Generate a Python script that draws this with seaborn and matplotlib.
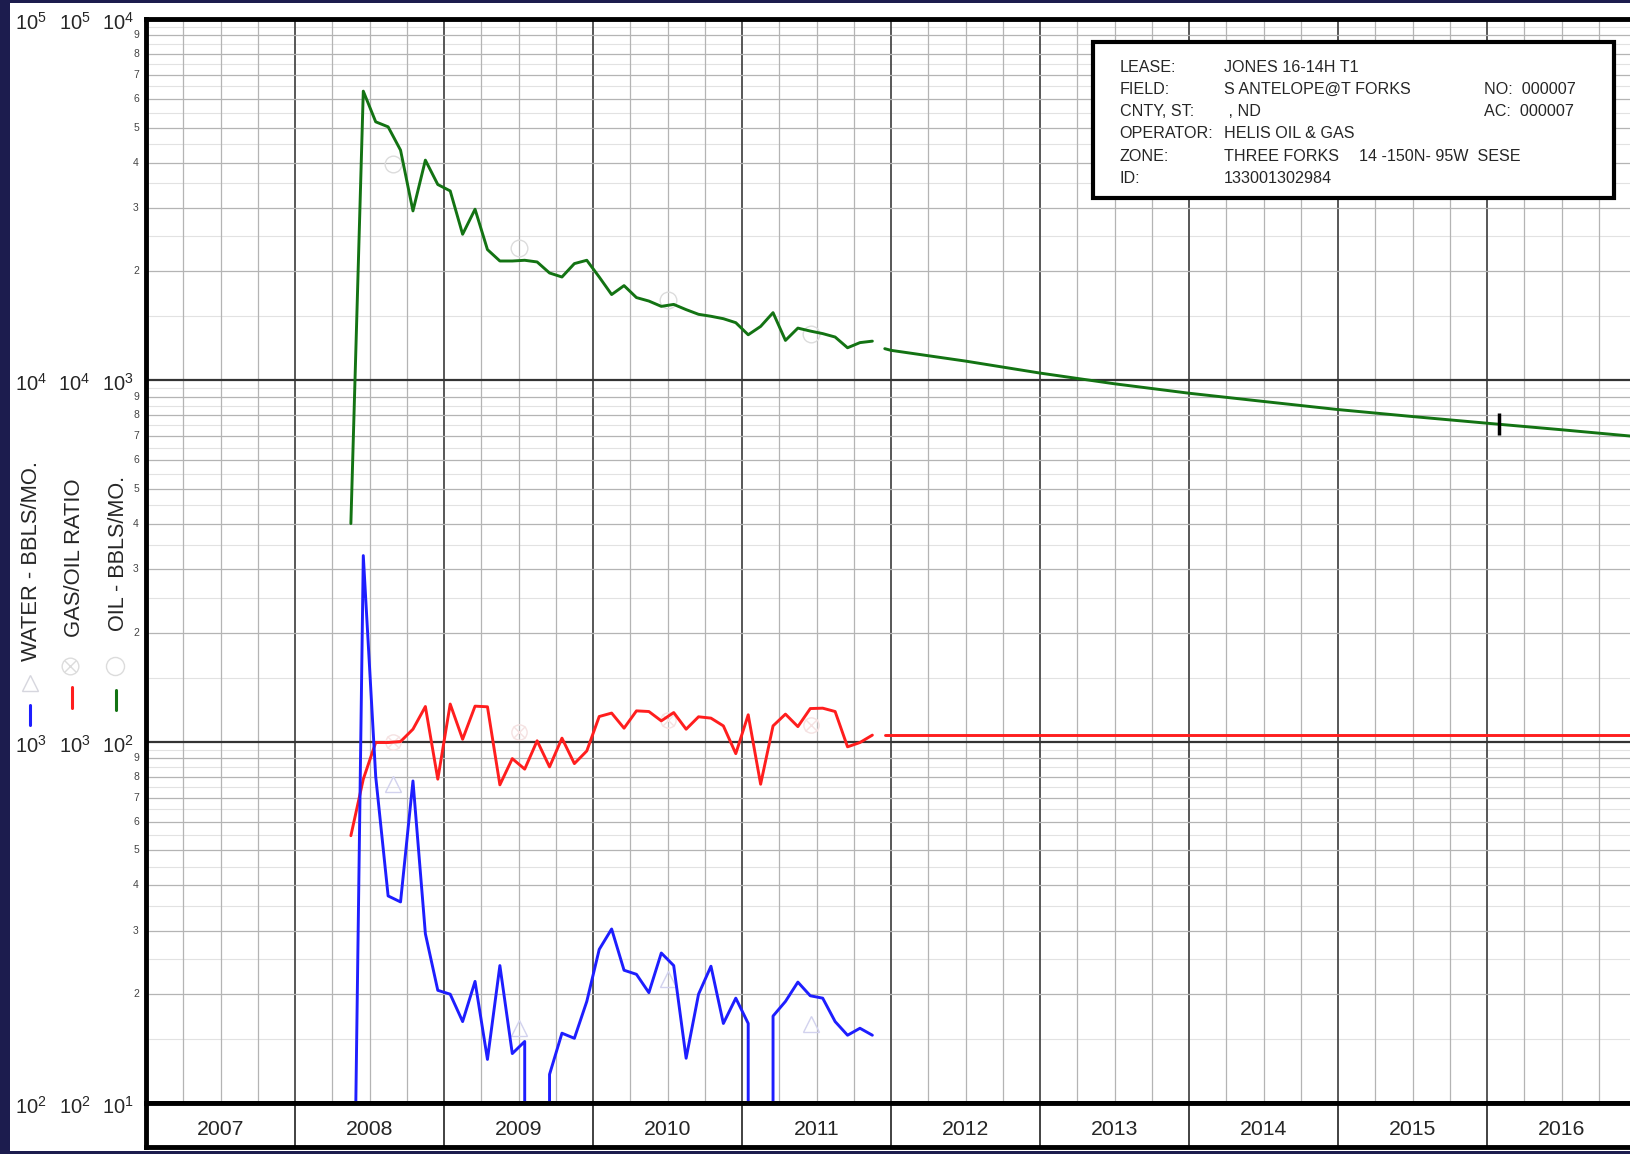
import numpy as np
import pandas as pd
import matplotlib
matplotlib.use("Agg")
import matplotlib.pyplot as plt
import seaborn as sns
from matplotlib.patches import Rectangle
from matplotlib.lines import Line2D
from matplotlib.ticker import LogLocator, NullFormatter, FixedLocator
from matplotlib.transforms import blended_transform_factory, offset_copy

# ---------------- data ----------------
months = pd.period_range("2008-05", "2011-11", freq="M")
oil = [401, 6303, 5184, 5021, 4328, 2939, 4061, 3477,
       3338, 2533, 2971, 2297, 2136, 2136, 2146, 2123, 1979, 1929, 2101, 2146,
       1929, 1725, 1826, 1692, 1655, 1600, 1620, 1567, 1521, 1502, 1479, 1442,
       1335, 1408, 1537, 1288, 1393, 1367, 1345, 1316, 1229, 1270, 1282]
gor = [549, 787, 994, 994, 1000, 1082, 1250, 787,
       1270, 1015, 1253, 1248, 759, 897, 839, 1005, 851, 1022, 869, 942,
       1173, 1199, 1089, 1216, 1211, 1141, 1203, 1082, 1171, 1161, 1105, 926,
       1186, 762, 1105, 1191, 1100, 1234, 1237, 1211, 967, 994, 1042]
water = [10, 3270, 800, 374, 360, 778, 294, 205,
         200, 168, 217, 132, 240, 137, 148, 0, 120, 156, 151, 191,
         266, 303, 233, 227, 202, 260, 240, 133, 200, 239, 166, 195,
         166, 0, 174, 191, 216, 198, 195, 168, 154, 161, 154]

fc_years = [2011.958, 2012.0, 2012.5, 2013.0, 2013.5, 2014.0, 2014.5,
            2015.0, 2015.5, 2016.0, 2016.5, 2017.0]
fc_oil = [1222, 1209, 1129, 1046, 977, 920, 873, 829, 793, 760, 729, 698]
fc_gor_years = [2011.958, 2017.0]
fc_gor = [1042, 1042]
mark_year = [2016.083]
mark_oil = [756]

avg_years = [2008.66, 2009.50, 2010.50, 2011.46]
avg_oil = [3953, 2317, 1671, 1338]
avg_water = [765, 161, 220, 165]
avg_gor = [1000, 1060, 1150, 1110]

years = list(range(2007, 2017))
info_labels = ["LEASE:", "FIELD:", "CNTY, ST:", "OPERATOR:", "ZONE:", "ID:"]
info_values = ["JONES 16-14H T1", "S ANTELOPE@T FORKS", " , ND",
               "HELIS OIL & GAS", "THREE FORKS", "133001302984"]
info_extra = {1: "NO:  000007", 2: "AC:  000007"}
zone_extra = "14 -150N- 95W  SESE"

# ---------------- style ----------------
sns.set_style("white")
plt.rcParams["font.family"] = ["Liberation Sans", "DejaVu Sans"]
plt.rcParams["mathtext.default"] = "regular"

W, H = 1630, 1154
NAVY = "#1c1c4e"
GREEN = "#137313"
RED = "#ff1e1e"
BLUE = "#1e1eff"

fig = plt.figure(figsize=(W / 100, H / 100), dpi=100, facecolor=NAVY)
fig.add_artist(Rectangle((10 / W, 3 / H), 1 - 10 / W, 1 - 6 / H,
                         transform=fig.transFigure, facecolor="white",
                         edgecolor="none", zorder=0))

t = np.array([p.year + (p.month - 0.5) / 12 for p in months])
df = pd.DataFrame({"t": t, "oil": oil, "gor": gor, "water": water})
df_fc = pd.DataFrame({"t": fc_years, "oil": fc_oil})
df_fcg = pd.DataFrame({"t": fc_gor_years, "gor": fc_gor})

left, right = 146, 1636
top, bottom = 18.7, 1103
ax = fig.add_axes([left / W, (H - bottom) / H, (right - left) / W, (bottom - top) / H])
ax.set_facecolor("white")
ax.set_yscale("log", nonpositive="clip")
ax.set_xlim(2007, 2017)
ax.set_ylim(10, 1e4)

# grid
ax.xaxis.set_major_locator(FixedLocator(list(range(2007, 2018))))
ax.xaxis.set_minor_locator(FixedLocator([y + q / 4 for y in range(2007, 2017) for q in (1, 2, 3)]))
ax.yaxis.set_major_locator(LogLocator(base=10, numticks=10))
ax.yaxis.set_minor_locator(LogLocator(base=10, subs=np.arange(2, 10), numticks=20))
ax.yaxis.set_minor_formatter(NullFormatter())
halves = [d * k for d in (10, 100, 1000) for k in np.arange(1.5, 10, 1.0)]
ax.hlines(halves, 2007, 2017, color="#e2e2e2", lw=0.8, zorder=0.5)
ax.grid(which="major", axis="x", color="#4a4a4a", lw=1.3)
ax.grid(which="minor", axis="x", color="#b4b4b4", lw=0.9)
ax.grid(which="major", axis="y", color="#333333", lw=1.6)
ax.grid(which="minor", axis="y", color="#b4b4b4", lw=0.9)
ax.set_axisbelow(True)
ax.tick_params(which="both", length=0, labelleft=False, labelbottom=False)
for s in ("left", "top", "bottom"):
    ax.spines[s].set_linewidth(3.5)
    ax.spines[s].set_color("black")
ax.spines["right"].set_visible(False)

ax2 = ax.twinx()
ax2.set_yscale("log", nonpositive="clip")
ax2.set_ylim(100, 1e5)
ax2.set_xlim(2007, 2017)
ax2.patch.set_visible(False)
for s in ax2.spines.values():
    s.set_visible(False)

# faint average markers
ax.plot(avg_years, avg_oil, ls="none", marker="o", ms=12, mfc="none",
        mec="#dcdcdc", mew=1.0, zorder=2)
ax2.plot(avg_years, avg_water, ls="none", marker="^", ms=12, mfc="none",
         mec="#d2d2ee", mew=1.0, zorder=2)
ax2.plot(avg_years, avg_gor, ls="none", marker="o", ms=11, mfc="none",
         mec="#f5e2e2", mew=1.0, zorder=2)
ax2.plot(avg_years, avg_gor, ls="none", marker="x", ms=8,
         mec="#f5e2e2", mew=1.0, zorder=2)

# series
sns.lineplot(data=df, x="t", y="oil", ax=ax, color=GREEN, lw=2.1,
             estimator=None, sort=False, legend=False)
sns.lineplot(data=df_fc, x="t", y="oil", ax=ax, color=GREEN, lw=2.1,
             estimator=None, sort=False, legend=False)
sns.lineplot(data=df, x="t", y="gor", ax=ax2, color=RED, lw=2.1,
             estimator=None, sort=False, legend=False)
sns.lineplot(data=df_fcg, x="t", y="gor", ax=ax2, color=RED, lw=2.1,
             estimator=None, sort=False, legend=False)
sns.lineplot(data=df, x="t", y="water", ax=ax2, color=BLUE, lw=2.1,
             estimator=None, sort=False, legend=False)
ax.plot(mark_year, mark_oil, ls="none", marker="|", ms=16, mew=2.5, color="black", zorder=5)
ax.set_xlabel(""); ax.set_ylabel(""); ax2.set_ylabel("")
ax.set_xlim(2007, 2017); ax2.set_xlim(2007, 2017)
ax.set_ylim(10, 1e4); ax2.set_ylim(100, 1e5)
ax2.tick_params(which="both", length=0, labelright=False)

# year strip
axy = fig.add_axes([left / W, (H - 1147) / H, (right - left) / W, (1147 - bottom) / H])
axy.set_xlim(2007, 2017)
axy.set_ylim(0, 1)
axy.set_xticks([]); axy.set_yticks([])
axy.vlines(list(range(2008, 2017)), 0, 1, color="#333333", lw=1.3)
for y in years:
    axy.text(y + 0.5, 0.40, str(y), ha="center", va="center", fontsize=15.3)
for s in ("left", "bottom", "top"):
    axy.spines[s].set_linewidth(3.5)
    axy.spines[s].set_color("black")
axy.spines["right"].set_visible(False)

# left tick label columns
trans = blended_transform_factory(fig.transFigure, ax.transData)
trans = offset_copy(trans, fig=fig, x=0, y=-4, units="dots")
cols = [(31, 2), (74.5, 2), (118, 1)]
for i, dec in enumerate([1e4, 1e3, 1e2, 1e1]):
    for cx, add in cols:
        e = int(round(np.log10(dec))) + (1 if add == 2 else 0)
        fig.text(cx / W, dec, r"$10^{%d}$" % e, transform=trans,
                 ha="center", va="center", fontsize=14.5)
trans_m = blended_transform_factory(fig.transFigure, ax.transData)
for dec in (10, 100, 1000):
    for k in range(2, 10):
        fig.text(136 / W, dec * k, str(k), transform=trans_m, ha="center",
                 va="center", fontsize=7.5, color="#444444")

# rotated axis titles
fig.text(32 / W, 1 - 661 / H, "WATER - BBLS/MO.", rotation=90, ha="center",
         va="bottom", fontsize=15.8)
fig.text(75 / W, 1 - 637 / H, "GAS/OIL RATIO", rotation=90, ha="center",
         va="bottom", fontsize=15.8)
fig.text(118.5 / W, 1 - 631 / H, "OIL - BBLS/MO.", rotation=90, ha="center",
         va="bottom", fontsize=15.6)

# legend symbols
for (x, y0, y1, c) in [(30, 705, 725, BLUE), (72, 687, 708, RED), (116, 690, 710, GREEN)]:
    fig.add_artist(Line2D([x / W, x / W], [1 - y0 / H, 1 - y1 / H], color=c, lw=2.2,
                          transform=fig.transFigure))
fig.add_artist(Line2D([30 / W], [1 - 683 / H], marker="^", ms=12, mfc="none",
                      mec="#d6d6de", mew=1.0, transform=fig.transFigure))
fig.add_artist(Line2D([70 / W], [1 - 666 / H], marker="o", ms=12, mfc="none",
                      mec="#dcdcdc", mew=1.0, transform=fig.transFigure))
fig.add_artist(Line2D([70 / W], [1 - 666 / H], marker="x", ms=8,
                      mec="#dcdcdc", mew=1.0, transform=fig.transFigure))
fig.add_artist(Line2D([115 / W], [1 - 666 / H], marker="o", ms=13, mfc="none",
                      mec="#dcdcdc", mew=1.0, transform=fig.transFigure))

# info box
bx0, by0, bx1, by1 = 1092.5, 41.6, 1614, 197.5
fig.add_artist(Rectangle((bx0 / W, 1 - by1 / H), (bx1 - bx0) / W, (by1 - by0) / H,
                         transform=fig.transFigure, facecolor="white",
                         edgecolor="black", lw=3, zorder=10))
ys = [67, 89.5, 112, 134, 156.5, 178.5]
for i, (lab, val) in enumerate(zip(info_labels, info_values)):
    fig.text(1119.5 / W, 1 - ys[i] / H, lab, ha="left", va="center", fontsize=11.6, zorder=11)
    fig.text(1223.5 / W, 1 - ys[i] / H, val, ha="left", va="center", fontsize=11.6, zorder=11)
    if i in info_extra:
        fig.text(1484.4 / W, 1 - ys[i] / H, info_extra[i], ha="left", va="center",
                 fontsize=11.6, zorder=11)
fig.text(1358.7 / W, 1 - ys[4] / H, zone_extra, ha="left", va="center", fontsize=11.6, zorder=11)

fig.savefig("out.png", dpi=100, facecolor=NAVY)
